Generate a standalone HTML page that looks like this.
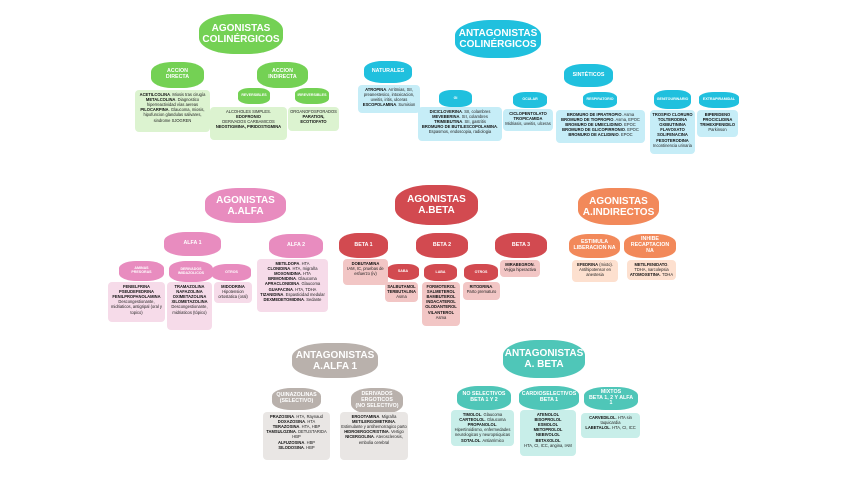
<!DOCTYPE html>
<html><head><meta charset="utf-8"><style>
body{margin:0;width:848px;height:477px;background:#fff;position:relative;overflow:hidden;font-family:"Liberation Sans",sans-serif}
.c{position:absolute;border-radius:45%;display:flex;align-items:center;justify-content:center;text-align:center;color:#fff;font-weight:bold;line-height:1.1;background:var(--k);
box-shadow:0 -3px 0 -1px var(--k),0 3px 0 -1px var(--k),-4px 0 0 -1px var(--k),4px 0 0 -1px var(--k),-3px -2px 0 0 var(--k),3px 2px 0 0 var(--k),3px -2px 0 0 var(--k),-3px 2px 0 0 var(--k)}
.b{position:absolute;border-radius:4px;text-align:center;font-size:4.1px;line-height:1.25;color:#222;padding:2px 1px;box-sizing:border-box;background:var(--k);overflow:hidden}
.b b{font-weight:bold;color:#111}
.g{--k:#74d154}.gl{--k:#dcf3d0}
.cy{--k:#20c0de}.cyl{--k:#c6edf7}
.p{--k:#e88cbf}.pl{--k:#f6dbe9}
.r{--k:#d24a50}.rl{--k:#f2c6c5}
.o{--k:#f2895a}.ol{--k:#fde0cf}
.gr{--k:#b9b1ac}.grl{--k:#e9e6e4}
.t{--k:#4fc6b8}.tl{--k:#c8eee9}
.big{font-size:10px}.mid{font-size:5.3px}.sm{font-size:3.6px}
</style></head><body>
<!-- green -->
<div class="c g big" style="left:202px;top:16px;width:78px;height:36px">AGONISTAS<br>COLINÉRGICOS</div>
<div class="c g mid" style="left:154px;top:64px;width:47px;height:22px">ACCION<br>DIRECTA</div>
<div class="c g mid" style="left:260px;top:64px;width:45px;height:22px">ACCION<br>INDIRECTA</div>
<div class="c g sm" style="left:241px;top:90px;width:26px;height:12px">REVERSIBLES</div>
<div class="c g sm" style="left:298px;top:90px;width:28px;height:12px">IRREVERSIBLES</div>
<div class="b gl" style="left:135px;top:90px;width:75px;height:42px"><b>ACETILCOLINA</b>. Miosis tras cirugía<br><b>METALCOLINA</b>. Diagnostico hiperreactividad vías aereas<br><b>PILOCARPINA</b>. Glaucoma, miosis, hipofuncion glandulas salivares, sindrome SJOGREN</div>
<div class="b gl" style="left:210px;top:107px;width:77px;height:33px">ALCOHOLES SIMPLES.<br><b>EDOFRONIO</b><br>DERIVADOS CARBAMICOS<br><b>NEOSTIGMINA, PIRIDOSTIGMINA</b></div>
<div class="b gl" style="left:288px;top:107px;width:51px;height:24px">ORGANOFOSFORADOS<br><b>PARATION,<br>ECOTIOFATO</b></div>
<!-- cyan -->
<div class="c cy big" style="left:458px;top:22px;width:80px;height:34px">ANTAGONISTAS<br>COLINÉRGICOS</div>
<div class="c cy mid" style="left:367px;top:63px;width:42px;height:18px">NATURALES</div>
<div class="c cy mid" style="left:567px;top:66px;width:43px;height:19px">SINTÉTICOS</div>
<div class="c cy sm" style="left:442px;top:92px;width:27px;height:13px">GI</div>
<div class="c cy sm" style="left:516px;top:94px;width:28px;height:12px">OCULAR</div>
<div class="c cy sm" style="left:586px;top:94px;width:28px;height:12px">RESPIRATORIO</div>
<div class="c cy sm" style="left:657px;top:92px;width:31px;height:15px">GENITOURINARIO</div>
<div class="c cy sm" style="left:702px;top:94px;width:34px;height:12px">EXTRAPIRAMIDAL</div>
<div class="b cyl" style="left:358px;top:85px;width:62px;height:28px"><b>ATROPINA</b>. Arritmias, SII, preanestesico, intoxicacion, uveitis, iritis, ulceras<br><b>ESCOPOLAMINA</b>. Sumision</div>
<div class="b cyl" style="left:418px;top:107px;width:84px;height:34px"><b>DICICLOVERINA</b>. SII, colambres<br><b>MEVEBERINA</b>. SII, colambres<br><b>TRIMEBUTINA</b>. SII, gastritis<br><b>BROMURO DE BUTILESCOPOLAMINA</b>.<br>Espasmos, endoscopia, radiologia</div>
<div class="b cyl" style="left:503px;top:109px;width:50px;height:22px"><b>CICLOPENTOLATO<br>TROPICAMIDA</b><br>Midriasis, uveitis, ulceras</div>
<div class="b cyl" style="left:556px;top:110px;width:89px;height:33px"><b>BROMURO DE IPRATROPIO</b>. Asma<br><b>BROMURO DE TIOPROPIO</b>. Asma, EPOC<br><b>BROMURO DE UMECLIDINIO</b>. EPOC<br><b>BROMURO DE GLICOPIRRONIO</b>. EPOC<br><b>BROMURO DE ACLIDINIO</b>. EPOC</div>
<div class="b cyl" style="left:650px;top:110px;width:45px;height:44px"><b>TROSPIO CLORURO<br>TOLTERODINA<br>OXIBUTININA<br>FLAVOXATO<br>SOLIFENACINA<br>FESOTERODINA</b><br>Incontinencia urinaria</div>
<div class="b cyl" style="left:697px;top:110px;width:41px;height:27px"><b>BIPERIDENO<br>PROCICLIDINA<br>TRIHEXIFENIDILO</b><br>Parkinson</div>
<!-- pink -->
<div class="c p big" style="left:208px;top:190px;width:75px;height:31px">AGONISTAS<br>A.ALFA</div>
<div class="c p mid" style="left:167px;top:234px;width:51px;height:20px">ALFA 1</div>
<div class="c p mid" style="left:272px;top:236px;width:48px;height:20px">ALFA 2</div>
<div class="c p sm" style="left:122px;top:263px;width:39px;height:16px">AMINAS<br>PRESORAS</div>
<div class="c p sm" style="left:172px;top:263px;width:38px;height:17px">DERIVADOS<br>IMIDAZOLICOS</div>
<div class="c p sm" style="left:215px;top:266px;width:33px;height:13px">OTROS</div>
<div class="b pl" style="left:108px;top:282px;width:57px;height:40px"><b>FENIELFRINA<br>PSEUDEFEDRINA<br>FENILPROPANOLAMINA</b><br>Descongestionante, midriaticos, antigripal (oral y topico)</div>
<div class="b pl" style="left:167px;top:282px;width:45px;height:48px"><b>TRAMAZOLINA<br>NAFAZOLINA<br>OXIMETAZOLINA<br>XILOMETAZOLINA</b><br>Descongestionante, midriaticos (tópico)</div>
<div class="b pl" style="left:214px;top:282px;width:38px;height:21px"><b>MIDODRINA</b><br>Hipotension ortostatica (oral)</div>
<div class="b pl" style="left:257px;top:259px;width:71px;height:53px"><b>METILDOPA</b>. HTA<br><b>CLONIDINA</b>. HTA, migraña<br><b>MOXONIDINA</b>. HTA<br><b>BRIMONIDINA</b>. Glaucoma<br><b>APRACLONIDINA</b>. Glaucoma<br><b>GUAFACINA</b>. HTA, TDHA<br><b>TIZANIDINA</b>. Espasticidad medular<br><b>DEXMEDETOMIDINA</b>. Sedante</div>
<!-- red -->
<div class="c r big" style="left:398px;top:187px;width:77px;height:36px">AGONISTAS<br>A.BETA</div>
<div class="c r mid" style="left:342px;top:235px;width:43px;height:21px">BETA 1</div>
<div class="c r mid" style="left:419px;top:235px;width:46px;height:21px">BETA 2</div>
<div class="c r mid" style="left:498px;top:235px;width:46px;height:21px">BETA 3</div>
<div class="c r sm" style="left:390px;top:266px;width:26px;height:12px">SABA</div>
<div class="c r sm" style="left:427px;top:266px;width:27px;height:13px">LABA</div>
<div class="c r sm" style="left:467px;top:266px;width:28px;height:13px">OTROS</div>
<div class="b rl" style="left:343px;top:259px;width:45px;height:26px"><b>DOBUTAMINA</b><br>IAM, IC, pruebas de esfuerzo (iv)</div>
<div class="b rl" style="left:385px;top:282px;width:33px;height:20px"><b>SALBUTAMOL<br>TERBUTALINA</b><br>Asma</div>
<div class="b rl" style="left:422px;top:282px;width:38px;height:44px"><b>FORMOTEROL<br>SALMETEROL<br>BAMBUTEROL<br>INDACATEROL<br>OLODANTEROL<br>VILANTEROL</b><br>Asma</div>
<div class="b rl" style="left:463px;top:282px;width:37px;height:18px"><b>RITODRINA</b>.<br>Parto prematuro</div>
<div class="b rl" style="left:500px;top:260px;width:40px;height:17px"><b>MIRABEGRON</b>.<br>Vejiga hiperactiva</div>
<!-- orange -->
<div class="c o big" style="left:581px;top:190px;width:75px;height:33px">AGONISTAS<br>A.INDIRECTOS</div>
<div class="c o mid" style="left:572px;top:236px;width:45px;height:20px">ESTIMULA<br>LIBERACION NA</div>
<div class="c o mid" style="left:627px;top:236px;width:46px;height:20px">INHIBE<br>RECAPTACION NA</div>
<div class="b ol" style="left:572px;top:260px;width:46px;height:22px"><b>EFEDRINA</b> (mixto).<br>Antihipotensor en anestesia</div>
<div class="b ol" style="left:627px;top:260px;width:49px;height:20px"><b>METILFENIDATO</b>.<br>TDHA, narcolepsia<br><b>ATOMOXETINA</b>. TDHA</div>
<!-- gray -->
<div class="c gr big" style="left:295px;top:345px;width:80px;height:31px">ANTAGONISTAS<br>A.ALFA 1</div>
<div class="c gr mid" style="left:275px;top:390px;width:43px;height:18px">QUINAZOLINAS<br>(SELECTIVO)</div>
<div class="c gr mid" style="left:354px;top:390px;width:46px;height:22px">DERIVADOS<br>ERGOTICOS<br>(NO SELECTIVO)</div>
<div class="b grl" style="left:263px;top:412px;width:67px;height:48px"><b>PRAZOSINA</b>. HTA, Raynaud<br><b>DOXAZOSINA</b>. HTA<br><b>TERAZOSINA</b>. HTA, HBP<br><b>TAMSULOZINA</b>. DETUSTARIDA HBP<br><b>ALFUZOSINA</b>. HBP<br><b>SILODOSINA</b>. HBP</div>
<div class="b grl" style="left:340px;top:412px;width:68px;height:48px"><b>ERGOTAMINA</b>. Migraña<br><b>METILERGOMETRINA</b>.<br>Estimulante y antihemorragico parto<br><b>HIDROERGOCRISTINA</b>. Vertigo<br><b>NICERGOLINA</b>. Aterosclerosis, embolia cerebral</div>
<!-- teal -->
<div class="c t big" style="left:506px;top:342px;width:76px;height:34px">ANTAGONISTAS<br>A. BETA</div>
<div class="c t mid" style="left:460px;top:388px;width:48px;height:20px">NO SELECTIVOS<br>BETA 1 Y 2</div>
<div class="c t mid" style="left:522px;top:388px;width:54px;height:20px">CARDIOSELECTIVOS<br>BETA 1</div>
<div class="c t mid" style="left:587px;top:389px;width:48px;height:19px">MIXTOS<br>BETA 1, 2 Y ALFA 1</div>
<div class="b tl" style="left:451px;top:410px;width:63px;height:36px"><b>TIMOLOL</b>. Glaucoma<br><b>CARTEOLOL</b>. Glaucoma<br><b>PROPANOLOL</b>.<br>Hipertiroidismo, enfermedades neurologicas y neuropsiquicas<br><b>SOTALOL</b>. Antiarrimico</div>
<div class="b tl" style="left:520px;top:410px;width:56px;height:46px"><b>ATENOLOL<br>BISOPROLOL<br>ESMOLOL<br>METOPROLOL<br>NEBIVOLOL<br>BETAXOLOL</b><br>HTA, CI, ICC, angina, IAM</div>
<div class="b tl" style="left:581px;top:413px;width:59px;height:25px"><b>CARVEDILOL</b>. HTA sin taquicardia<br><b>LABETALOL</b>. HTA, CI, ICC</div>
</body></html>
